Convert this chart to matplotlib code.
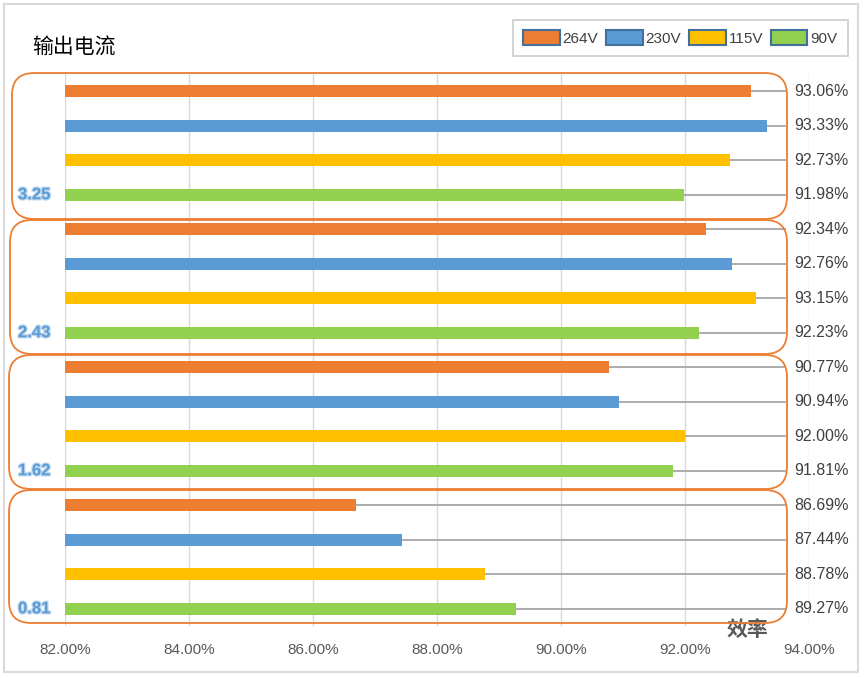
import matplotlib
matplotlib.use('Agg')
import numpy as np
import matplotlib.pyplot as plt
from matplotlib.patches import FancyBboxPatch, Rectangle, Patch
from matplotlib.transforms import IdentityTransform, blended_transform_factory
import matplotlib.patheffects as pe

# ---------------- data ----------------
groups = ['3.25', '2.43', '1.62', '0.81']          # 输出电流
series = ['264V', '230V', '115V', '90V']
eff_264 = [93.06, 92.34, 90.77, 86.69]
eff_230 = [93.33, 92.76, 90.94, 87.44]
eff_115 = [92.73, 93.15, 92.00, 88.78]
eff_90 = [91.98, 92.23, 91.81, 89.27]
x_ticks = [82, 84, 86, 88, 90, 92, 94]

values = [eff_264, eff_230, eff_115, eff_90]
colors = ['#ED7D31', '#5B9BD5', '#FFC000', '#92D050']

plt.rcParams['font.family'] = ['Liberation Sans', 'Noto Sans CJK SC', 'DejaVu Sans']

W, H = 865, 678
fig = plt.figure(figsize=(W / 100, H / 100), dpi=100)
ax = fig.add_axes([65 / W, 1 - 626 / H, 744 / W, 552 / H])

nser = len(series)
nrows = len(groups) * nser
ax.set_xlim(x_ticks[0], x_ticks[-1])
ax.set_ylim(nrows - 0.5, -0.5)

x_line = x_ticks[0] + (x_ticks[-1] - x_ticks[0]) * (785 - 65) / 744
x_lab = x_ticks[0] + (x_ticks[-1] - x_ticks[0]) * (794 - 65) / 744

for s, (name, vals, col) in enumerate(zip(series, values, colors)):
    rows = [g * nser + s for g in range(len(groups))]
    ax.barh(rows, vals, height=0.35, color=col, zorder=3)
    for r, v in zip(rows, vals):
        ax.plot([v, x_line], [r, r], color='#A6A6A6', lw=1.3, clip_on=False, zorder=2)
        ax.text(x_lab, r, f'{v:.2f}%', ha='left', va='center', fontsize=11.5,
                color='#404040', clip_on=False)

# group labels
btr = blended_transform_factory(ax.transAxes, ax.transData)
for g, lab in enumerate(groups):
    ax.text((18 - 65) / 744, g * nser + nser - 1, lab, transform=btr, ha='left', va='center',
            fontsize=12, fontweight='bold', color='#5B9BD5',
            path_effects=[pe.withStroke(linewidth=1.8, foreground='#BDD7EE')])

# axes styling
ax.set_xticks(x_ticks)
ax.set_xticklabels([f'{t:.2f}%' for t in x_ticks])
ax.set_yticks([])
ax.tick_params(axis='x', length=0, pad=12, labelsize=11, labelcolor='#595959')
ax.grid(axis='x', color='#D9D9D9', lw=1)
ax.set_axisbelow(True)
for sp in ax.spines.values():
    sp.set_visible(False)

# rounded group boxes (pixel extents measured from top of image)
box_top_px = [73, 220, 355, 490]
box_bot_px = [219, 354, 489, 623]
box_left_px = [12, 10, 9, 9]
box_right_px = 787
for t, b, l in zip(box_top_px, box_bot_px, box_left_px):
    box = FancyBboxPatch((l, H - b), box_right_px - l, b - t,
                         boxstyle='round,pad=0,rounding_size=22',
                         transform=IdentityTransform(), fill=False,
                         edgecolor='#ED7D31', lw=1.3, zorder=5)
    fig.add_artist(box)

# outer border
fig.add_artist(Rectangle((4, 6), 854, 668, transform=IdentityTransform(), fill=False,
                         edgecolor='#D9D9D9', lw=1.5))

# titles
fig.text(32 / W, 1 - 48 / H, '输出电流', ha='left', va='center', fontsize=15,
         color='black', fontweight='medium', family=['Noto Sans CJK SC', 'DejaVu Sans'])
fig.text(747 / W, 1 - 630 / H, '效率', ha='center', va='center', fontsize=15,
         color='#595959', fontweight='bold', family=['Noto Sans CJK SC', 'DejaVu Sans'])

# legend
handles = [Patch(facecolor=c, edgecolor='#41719C', lw=1.5) for c in colors]
leg = fig.legend(handles, series, ncol=4, loc='upper right',
                 bbox_to_anchor=(848 / W, 1 - 20 / H), frameon=True, fancybox=False,
                 edgecolor='#BFBFBF', fontsize=11, handlelength=2.4, handleheight=1.1,
                 handletextpad=0.2, columnspacing=0.5, borderpad=0.68, borderaxespad=0)
leg.get_frame().set_linewidth(1.2)
for t in leg.get_texts():
    t.set_color('#404040')

fig.savefig('out.png', dpi=100)
